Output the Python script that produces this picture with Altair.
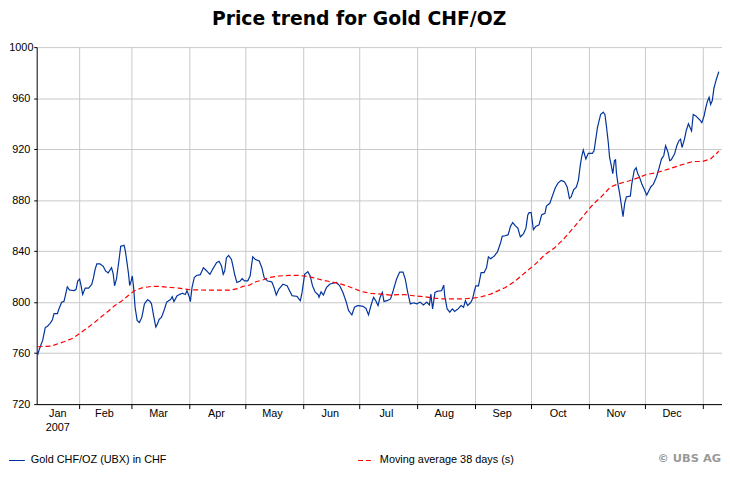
import altair as alt
import pandas as pd

TITLE = "Price trend for Gold CHF/OZ"
PRICE_LABEL = "Gold CHF/OZ (UBX) in CHF"
MA_LABEL = "Moving average 38 days (s)"
CREDIT = "© UBS AG"

# day of year 2007 (values above 365 run into January 2008)
PRICE_DAY = [
    9.5, 10.4, 12.2, 13.6, 14.8, 16.0, 17.4, 18.3, 20.1, 21.0, 22.4, 23.6, 24.5, 25.4, 26.6, 28.9,
    30.1, 31.0, 32.0, 32.9, 33.6, 35.0, 36.8, 38.5, 39.4, 40.3, 41.2, 42.9, 44.7, 45.9, 47.3, 48.2,
    49.1, 50.0, 50.7, 51.7, 53.0, 54.0, 55.8, 56.5, 57.5, 58.2, 58.8, 59.6, 60.2, 60.9, 61.7, 62.8,
    64.0, 65.3, 66.7, 68.4, 69.7, 70.5, 71.6, 72.8, 73.7, 74.6, 75.8, 77.2, 78.6, 80.7, 81.6, 82.5,
    84.2, 86.9, 88.6, 89.5, 90.8, 91.3, 92.2, 93.4, 94.8, 96.6, 98.3, 100.1, 101.8, 103.2, 105.3, 106.7,
    108.0, 108.9, 109.7, 110.6, 111.8, 113.3, 114.1, 115.0, 116.2, 118.0, 119.0, 120.3, 122.0, 123.3, 124.7, 126.1,
    128.2, 129.6, 130.8, 132.6, 134.9, 136.1, 137.3, 138.7, 140.9, 143.1, 144.4, 145.8, 148.4, 150.2, 151.1, 152.5,
    154.2, 155.5, 156.7, 158.1, 159.8, 160.2, 161.3, 162.5, 164.2, 166.0, 167.8, 169.5, 171.3, 173.0, 174.8, 176.0,
    177.8, 179.2, 180.9, 183.6, 185.3, 186.7, 188.0, 189.4, 190.6, 191.8, 192.9, 194.1, 195.0, 196.8, 198.5, 199.9,
    201.7, 203.4, 205.2, 206.4, 207.7, 209.1, 210.8, 212.6, 214.3, 216.1, 217.9, 219.3, 220.1, 221.0, 222.3, 223.5,
    225.8, 227.0, 227.5, 228.8, 230.2, 231.6, 232.8, 234.6, 236.3, 237.6, 238.6, 239.8, 241.6, 242.5, 243.4, 244.2,
    245.6, 246.3, 247.0, 248.6, 249.9, 250.9, 252.1, 253.9, 255.7, 256.5, 257.4, 258.3, 260.0, 261.5, 262.7, 263.9,
    265.3, 266.7, 268.0, 269.7, 271.0, 272.0, 272.7, 273.8, 275.0, 276.2, 278.0, 279.4, 281.2, 282.0, 283.8, 285.0,
    286.8, 288.2, 289.9, 291.7, 293.1, 294.3, 295.2, 296.6, 297.9, 299.1, 300.1, 300.8, 301.7, 303.1, 304.4, 306.6,
    307.5, 309.3, 311.0, 312.4, 313.3, 314.2, 315.1, 315.8, 316.7, 317.5, 318.4, 319.0, 319.5, 320.4, 321.2, 322.1,
    323.0, 323.9, 324.8, 326.9, 327.7, 329.0, 330.0, 330.9, 331.8, 333.0, 334.2, 335.7, 336.5, 337.8, 339.2, 340.9,
    342.2, 343.6, 344.8, 345.8, 347.1, 348.0, 348.8, 350.6, 351.8, 352.9, 353.8, 354.6, 355.9, 356.8, 358.0, 358.9,
    359.7, 360.6, 362.0, 363.8, 365.2, 366.4, 367.3, 368.2, 369.1, 369.9, 370.8, 371.7, 372.9, 374.3,
]
PRICE_VAL = [
    758.5, 763, 770, 780, 781, 783, 786, 791, 791, 795, 800, 800.5, 806, 812, 809.5, 809,
    810, 816.6, 818, 812, 806, 811, 811, 814, 819, 825.7, 830, 830, 828, 824.4, 823, 825,
    827, 822, 812.8, 818, 832, 843.8, 844.6, 840, 829.6, 822, 813, 816.6, 820.5, 811.7, 796, 785.6,
    784, 788, 798.6, 802, 800.5, 798.6, 789.5, 780.5, 783, 786.5, 788, 793.4, 800, 802, 804.3, 800.4,
    805, 807, 806, 809, 803.8, 800.4, 811.5, 819.3, 821, 821.5, 827, 824.4, 821.8, 825.7, 830.9, 832,
    828.3, 821.8, 824.4, 834.8, 836.6, 833.5, 828.3, 821.8, 815.4, 816.6, 818.5, 816.6, 816.6, 820.5, 835.5, 833.5,
    832.2, 827, 819.3, 816.6, 815.9, 811.5, 805.6, 810.2, 814.1, 812.8, 809, 805, 804.5, 801.1, 807.6, 821.8,
    823.9, 820.5, 812.8, 808.1, 805.6, 803.8, 808.1, 805.5, 811.5, 814.1, 814.9, 815.4, 812.8, 807.6, 800, 793.4,
    790, 796, 797.3, 796.8, 795.2, 790, 797.3, 803.8, 801.1, 797.3, 803.8, 807.6, 800.5, 801.3, 802.5, 808.9,
    818, 823.6, 823.6, 818, 807.6, 798.6, 799.5, 798.6, 800, 797.8, 800, 797.8, 806.3, 794.7, 807.6, 808.5,
    809, 813.3, 805, 794.7, 792.1, 794.7, 792.7, 794.7, 797.3, 796, 801.1, 797.3, 800, 803, 808.9, 812.8,
    812.8, 818, 823.2, 823.2, 827, 835.5, 834, 836, 839.2, 842.6, 846.4, 851.6, 852.1, 852.9, 859.3, 862.4,
    859.9, 858, 851.1, 853.6, 858, 868.4, 870.2, 870.2, 856.8, 859.3, 860.6, 868.4, 869.7, 875.4, 877.5, 882.6,
    889.9, 893.4, 895.5, 894.2, 890.3, 881.3, 882.6, 888.3, 889.9, 895.5, 907.2, 913.6, 919.3, 912.3, 916.7, 916.7,
    918.8, 936.9, 947.2, 949, 947.2, 936.9, 925.2, 913.6, 907.2, 900.7, 911, 911.6, 900.7, 891.6, 885.2, 876.1,
    867.1, 877.5, 882.6, 883.1, 892.9, 903.3, 905.4, 900.7, 898.1, 892.9, 889, 883.9, 886.4, 890.3, 892.4, 898.1,
    904.6, 912.3, 914.9, 922.7, 917.5, 911, 911.6, 916.2, 922.7, 926.5, 927.8, 921.3, 927.8, 934.3, 939.9, 936.9,
    934.3, 947.2, 946, 943.4, 940.8, 946, 952.4, 957.6, 960.7, 955, 958.1, 967.9, 974.4, 980.8,
]

MA_DAY = [
    9.5, 16.6, 23.6, 28.0, 32.4, 36.8, 40.3, 43.8, 47.3, 50.8, 54.4, 57.9, 61.4, 64.9, 70.2, 75.5,
    80.7, 85.1, 91.3, 101.8, 112.4, 116.8, 119.4, 122.9, 126.4, 130.0, 133.5, 138.7, 144.0, 149.3, 154.6, 158.1,
    161.6, 166.9, 172.2, 177.4, 182.7, 188.0, 193.2, 198.5, 205.6, 210.8, 216.1, 221.4, 226.7, 231.9, 237.2, 242.5,
    246.3, 252.1, 260.0, 265.3, 270.6, 275.9, 281.2, 286.4, 291.7, 297.0, 302.2, 305.8, 308.4, 311.0, 316.3, 320.7,
    326.0, 331.3, 335.7, 340.0, 348.0, 353.2, 360.3, 365.5, 369.9, 374.3,
]
MA_VAL = [
    765, 765.5, 768.9, 771.4, 775.8, 780.5, 784.4, 788.7, 792.9, 797.3, 800.7, 805, 808.9, 811, 812.3, 812.3,
    811.5, 811, 809.7, 809.4, 809.4, 810.7, 812.3, 813.3, 816, 817.4, 819.3, 820.5, 821, 821, 820, 818.8,
    817.4, 815.9, 814.1, 811.5, 808.4, 806.9, 806.3, 805.5, 806, 805, 804.3, 803.2, 802.5, 802.5, 802.5, 803.2,
    803.8, 806.3, 811.5, 816.6, 823.2, 829.6, 837.3, 842.6, 850.3, 859.3, 868.4, 874.8, 878.7, 882.1, 890.3, 892.9,
    895, 897.6, 900.2, 901.2, 904.6, 907.2, 910.3, 910.3, 912.3, 918.3,
]

MONTH_STARTS = [(2007, m) for m in range(2, 13)] + [(2008, 1)]
MONTH_LABEL_DAYS = [(1, 20), (2, 14), (3, 15), (4, 15), (5, 15), (6, 15),
                    (7, 15), (8, 15), (9, 15), (10, 15), (11, 15), (12, 15)]
Y_TICKS = [720, 760, 800, 840, 880, 920, 960, 1000]

PLOT_W, PLOT_H = 693, 361
BASE = pd.Timestamp("2007-01-01")


def to_iso(days):
    return [(BASE + pd.Timedelta(days=d - 1)).strftime("%Y-%m-%dT%H:%M:%S") for d in days]


lines_df = pd.concat([
    pd.DataFrame({"date": to_iso(PRICE_DAY), "value": PRICE_VAL, "series": PRICE_LABEL}),
    pd.DataFrame({"date": to_iso(MA_DAY), "value": MA_VAL, "series": MA_LABEL}),
], ignore_index=True)

grid_df = pd.DataFrame({"date": [f"{y}-{m:02d}-01T00:00:00" for y, m in MONTH_STARTS]})
credit_df = pd.DataFrame({"t": [CREDIT]})
title_df = pd.DataFrame({"t": [TITLE]})

x_axis = alt.Axis(
    values=[alt.DateTime(year=2007, month=m, date=d) for m, d in MONTH_LABEL_DAYS],
    labelExpr="month(datum.value) == 0 ? ['Jan', '2007'] : timeFormat(datum.value, '%b')",
    title=None, grid=False, ticks=False, tickSize=0, domain=True, domainColor="black",
    domainWidth=1, labelFont="Liberation Sans", labelFontSize=11, labelColor="black",
    labelPadding=4, labelLineHeight=14, labelAlign="center", labelOverlap=False,
    labelFlush=False, labelBound=False, zindex=1,
)
X = alt.X(
    "date:T",
    scale=alt.Scale(domain=[alt.DateTime(year=2007, month=1, date=9),
                            alt.DateTime(year=2008, month=1, date=11)]),
    axis=x_axis,
)
Y = alt.Y(
    "value:Q",
    scale=alt.Scale(domain=[720, 1000], nice=False, zero=False),
    axis=alt.Axis(values=Y_TICKS, format="d", title=None, grid=True, gridColor="#c8c8c8",
                  gridWidth=1, domainColor="black", tickColor="black", tickSize=3,
                  labelAlign="center", labelPadding=13, labelFont="Liberation Sans",
                  labelFontSize=11, labelColor="black"),
)

legend = alt.Legend(
    title=None, orient="none", legendX=-29, legendY=409, direction="horizontal",
    symbolType="stroke", symbolSize=256, symbolStrokeWidth=1.2, labelFont="Liberation Sans",
    labelFontSize=11, labelColor="black", labelOffset=5, columnPadding=190, padding=0,
)

vgrid = alt.Chart(grid_df).mark_rule(color="#c8c8c8", strokeWidth=1).encode(x=X)
vticks = alt.Chart(grid_df).mark_rule(color="black", strokeWidth=1).encode(
    x=X, y=alt.value(PLOT_H), y2=alt.value(PLOT_H + 5))

lines = alt.Chart(lines_df).mark_line(strokeWidth=1.2).encode(
    x=X, y=Y,
    color=alt.Color("series:N", scale=alt.Scale(domain=[PRICE_LABEL, MA_LABEL],
                                                range=["#00339c", "#ff0000"]), legend=legend),
    strokeDash=alt.StrokeDash("series:N", scale=alt.Scale(domain=[PRICE_LABEL, MA_LABEL],
                                                          range=[[1, 0], [5, 3]]), legend=legend),
)

title = alt.Chart(title_df).mark_text(
    align="center", baseline="alphabetic", font="DejaVu Sans", fontWeight="bold",
    fontSize=19, color="black",
).encode(x=alt.value(326), y=alt.value(-22), text="t:N")

credit = alt.Chart(credit_df).mark_text(
    align="right", baseline="alphabetic", font="DejaVu Sans", fontWeight="bold",
    fontSize=11.5, color="#999999",
).encode(x=alt.value(PLOT_W - 1), y=alt.value(420), text="t:N")

chart = alt.layer(vgrid, vticks, lines, title, credit).properties(
    width=PLOT_W, height=PLOT_H,
    autosize=alt.AutoSizeParams(type="none"),
    padding={"left": 29, "top": 37, "right": 0, "bottom": 60},
).configure_view(strokeWidth=0)

chart.save("out.html", embed_options={"renderer": "svg", "actions": False})
